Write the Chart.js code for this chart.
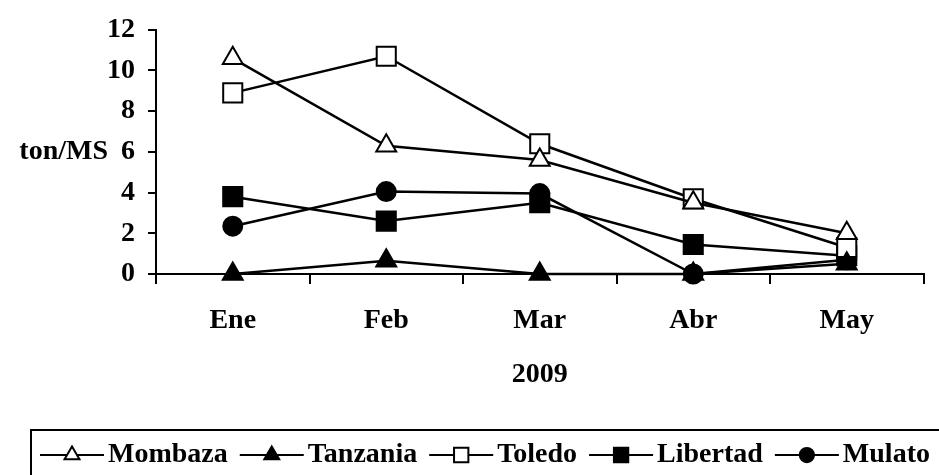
<!DOCTYPE html>
<html>
<head>
<meta charset="utf-8">
<script src="https://cdn.jsdelivr.net/npm/chart.js@4/dist/chart.umd.min.js"></script>
<style>
  body { margin: 0; background: #fff; }
  #wrap { width: 939px; height: 475px; }
</style>
</head>
<body>
<div id="wrap"><canvas id="forrajeChart" width="939" height="475"></canvas></div>
<script>
// meses del periodo 2009
var meses = ['Ene', 'Feb', 'Mar', 'Abr', 'May'];
var yTicks = [0, 2, 4, 6, 8, 10, 12];

var mombaza  = [10.6, 6.3, 5.6, 3.5, 2.0];
var tanzania = [0, 0.65, 0, 0, 0.5];
var toledo   = [8.9, 10.7, 6.4, 3.7, 1.3];
var libertad = [3.8, 2.6, 3.5, 1.45, 0.9];
var mulato   = [2.35, 4.05, 3.95, 0, 0.7];

var fuente = '"Liberation Serif", "Times New Roman", serif';

function serie(label, values, style, fill, radius) {
  return {
    label: label,
    data: values,
    borderColor: '#000',
    borderWidth: 2.5,
    pointStyle: style,
    pointRadius: radius,
    pointHoverRadius: radius,
    pointBackgroundColor: fill,
    pointBorderColor: '#000',
    pointBorderWidth: 2,
    tension: 0,
    clip: false
  };
}

// titulo del eje y y leyenda con recuadro
var extras = {
  id: 'extras',
  afterDraw: function(chart) {
    var ctx = chart.ctx;
    var yScale = chart.scales.y;
    ctx.save();
    ctx.font = 'bold 28px ' + fuente;
    ctx.fillStyle = '#000';
    ctx.textAlign = 'right';
    ctx.textBaseline = 'middle';
    ctx.fillText('ton/MS', 108, yScale.getPixelForValue(6));

    ctx.lineWidth = 2;
    ctx.strokeStyle = '#000';
    ctx.strokeRect(31, 430, 940, 60);

    var x = 40;
    var ly = 455;
    chart.data.datasets.forEach(function(ds) {
      ctx.lineWidth = 2;
      ctx.beginPath();
      ctx.moveTo(x, ly);
      ctx.lineTo(x + 64, ly);
      ctx.stroke();
      ctx.fillStyle = ds.pointBackgroundColor;
      Chart.helpers.drawPoint(ctx, {
        pointStyle: ds.pointStyle,
        radius: ds.pointRadius * 0.75,
        rotation: 0,
        borderWidth: 2
      }, x + 32, ly);
      ctx.fillStyle = '#000';
      ctx.textAlign = 'left';
      ctx.fillText(ds.label, x + 68, ly);
      x += 68 + ctx.measureText(ds.label).width + 12;
    });
    ctx.restore();
  }
};

var chart = new Chart(document.getElementById('forrajeChart'), {
  type: 'line',
  data: {
    labels: meses,
    datasets: [
      serie('Mombaza', mombaza, 'triangle', '#fff', 11.5),
      serie('Tanzania', tanzania, 'triangle', '#000', 11.5),
      serie('Toledo', toledo, 'rect', '#fff', 13.5),
      serie('Libertad', libertad, 'rect', '#000', 13.5),
      serie('Mulato', mulato, 'circle', '#000', 9.5)
    ]
  },
  options: {
    responsive: false,
    animation: false,
    layout: { padding: { left: 0, top: 25, right: 5, bottom: 0 } },
    plugins: {
      legend: { display: false },
      tooltip: { enabled: false }
    },
    scales: {
      x: {
        offset: true,
        grid: {
          offset: true,
          drawOnChartArea: false,
          drawTicks: true,
          tickLength: 10,
          color: '#000',
          lineWidth: 2
        },
        border: { display: true, color: '#000', width: 2 },
        ticks: {
          color: '#000',
          padding: 20,
          font: { family: fuente, size: 28, weight: 'bold', lineHeight: 1.2 }
        },
        title: {
          display: true,
          text: '2009',
          color: '#000',
          padding: { top: 0, bottom: 83 },
          font: { family: fuente, size: 28, weight: 'bold', lineHeight: 1.2 }
        },
        afterFit: function(scale) { scale.height = 201; }
      },
      y: {
        min: 0,
        max: 12,
        afterBuildTicks: function(scale) {
          scale.ticks = yTicks.map(function(v) { return { value: v }; });
        },
        grid: {
          drawOnChartArea: false,
          drawTicks: true,
          tickLength: 8,
          color: '#000',
          lineWidth: 2
        },
        border: { display: true, color: '#000', width: 2 },
        ticks: {
          color: '#000',
          padding: 13,
          font: { family: fuente, size: 28, weight: 'bold' }
        },
        afterFit: function(scale) { scale.width = 156; }
      }
    }
  },
  plugins: [extras]
});
</script>
</body>
</html>
